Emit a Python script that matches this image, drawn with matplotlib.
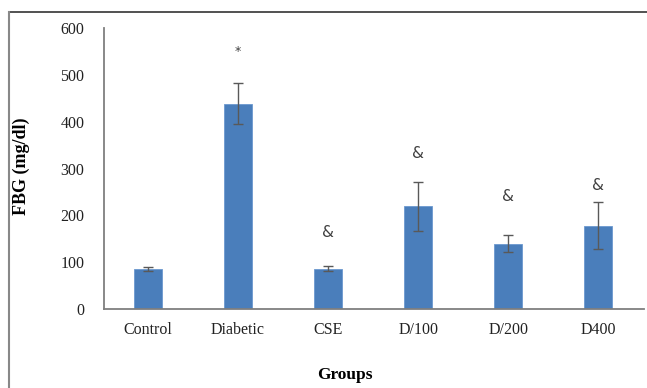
import matplotlib.pyplot as plt
from matplotlib.lines import Line2D

# data
groups = ["Control", "Diabetic", "CSE", "D/100", "D/200", "D400"]
fbg = [86, 438, 86, 219, 139, 178]
sd = [4, 44, 5, 52, 18, 50]
marks = ["", "*", "&", "&", "&", "&"]
mark_y = [0, 549, 164, 333, 241, 263]

plt.rcParams['font.family'] = ['Liberation Serif', 'DejaVu Serif']

fig = plt.figure(figsize=(6.47, 3.88), dpi=100)
ax = fig.add_axes([0.1607, 0.2036, 0.8347, 0.7242])

x = list(range(len(groups)))
ax.bar(x, fbg, width=0.31, color='#4a7ebb', edgecolor='#6b98cf', linewidth=0.6, zorder=2)
ax.errorbar(x, fbg, yerr=sd, fmt='none', ecolor='#595959', elinewidth=1.0, capsize=3.5, capthick=1.0, zorder=3)

for xi, m, yy in zip(x, marks, mark_y):
    if m:
        ax.text(xi, yy, m, ha='center', va='center', fontsize=11 if m == "&" else 9,
                color='#404040', family=['DejaVu Sans'])

ax.set_xlim(-0.49, 5.51)
ax.set_ylim(0, 600)
ax.set_yticks(range(0, 601, 100))
ax.set_xticks(x)
ax.set_xticklabels(groups)
ax.tick_params(axis='both', length=0, labelsize=11.5, colors='#222222')
ax.tick_params(axis='y', pad=14)
ax.tick_params(axis='x', pad=9)

for s in ['top', 'right']:
    ax.spines[s].set_visible(False)
for s in ['left', 'bottom']:
    ax.spines[s].set_color('#7f7f7f')
    ax.spines[s].set_linewidth(1.3)

fig.text(0.033, 0.572, "FBG (mg/dl)", rotation=90, ha='center', va='center',
         fontsize=13, fontweight='bold')
fig.text(0.533, 0.033, "Groups", ha='center', va='center', fontsize=12.5, fontweight='bold')

# outer frame
ytop = 1 - 12 / 388
xl = 9 / 647
fig.add_artist(Line2D([xl, 1.0], [ytop, ytop], transform=fig.transFigure, color='#333333', lw=1.2))
fig.add_artist(Line2D([xl, xl], [ytop, 0.0], transform=fig.transFigure, color='#888888', lw=1.5))

fig.savefig("out.png", dpi=100)
